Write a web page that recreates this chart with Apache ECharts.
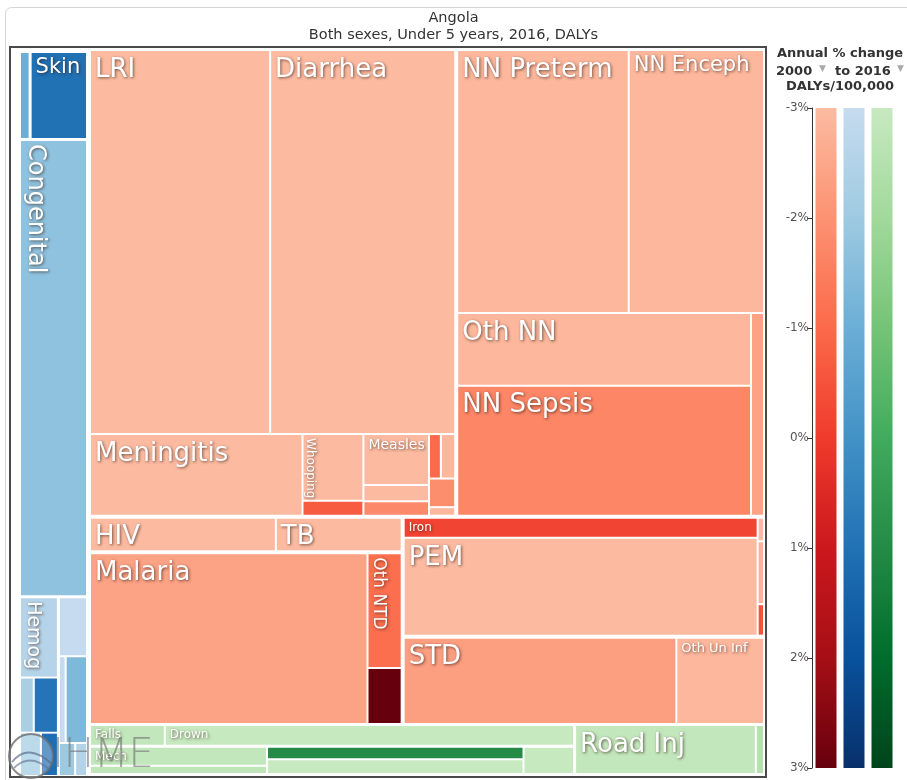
<!DOCTYPE html>
<html lang="en">
<head>
  <meta charset="UTF-8">
  <title>Angola - Both sexes, Under 5 years, 2016, DALYs</title>
  <style>
    html, body {
      height: 100%;
      width: 100%;
      margin: 0;
      padding: 0;
      background: #fff;
    }
  </style>
  <script src="https://cdn.jsdelivr.net/npm/echarts@6/dist/echarts.min.js"></script>
</head>
<body>
<div id="main" style="width: 907px; height: 780px;"></div>

<script>
  // DALYs: relative size of each cause
  // change: annual % change of DALYs/100,000, 2000 to 2016

  // communicable, maternal, neonatal and nutritional
  var cmnnGroups = ['Diarrhea, LRI & other infections', 'Neonatal disorders', 'HIV/AIDS & TB',
    'NTDs & malaria', 'Nutritional deficiencies', 'Other communicable'];
  var cmnnCauses = [
    ['LRI', 'Diarrhea', 'Meningitis', 'Whooping', 'Diphtheria', 'Measles', 'Encephalitis', 'Tetanus',
      'Varicella', 'URI', 'Typhoid', 'Otitis'],
    ['NN Preterm', 'NN Enceph', 'Oth NN', 'NN Sepsis', 'NN Hemol'],
    ['HIV', 'TB'],
    ['Malaria', 'Oth NTD', 'Yellow Fever'],
    ['Iron', 'PEM', 'Iodine', 'Vit A', 'Oth Nutr'],
    ['STD', 'Oth Un Inf']
  ];
  var cmnnDalys = [
    [68.2, 70.1, 17.1, 4.0, 0.9, 3.3, 1.05, 0.93, 0.52, 0.63, 0.74, 0.22],
    [44.5, 35.1, 21.1, 37.7, 2.6],
    [6.5, 4.4],
    [47.1, 3.9, 1.9],
    [7.1, 34.6, 0.15, 0.4, 0.2],
    [23.65, 7.6]
  ];
  var cmnnChange = [
    [-3, -3, -3, -3, -0.7, -3, -3, -1.8, -1.0, -2.9, -1.9, -2.9],
    [-2.9, -2.9, -2.9, -1.7, -2.4],
    [-3, -3],
    [-2.4, -1.1, 3],
    [-0.2, -3, -3, -2.8, -0.5],
    [-2.3, -2.9]
  ];

  // non-communicable
  var ncdGroups = ['Neoplasms', 'Skin diseases', 'Congenital anomalies', 'Blood & endocrine', 'Other NCD'];
  var ncdCauses = [
    ['Leukemia'],
    ['Skin'],
    ['Congenital'],
    ['Hemog', 'Endocrine', 'Urinary', 'Oth Hemat', 'CKD'],
    ['Neuro', 'Digestive', 'Chr Resp', 'Cardio', 'Oral']
  ];
  var ncdDalys = [[0.92], [4.97], [30.6], [3.1, 0.77, 1.35, 0.92, 0.75], [1.7, 0.6, 1.9, 0.55, 0.4]];
  var ncdChange = [[-1.0], [1.0], [-1.7], [-2.6, -2.3, 0.9, -2.0, 1.1], [-3, -3, -1.4, -2.0, -2.5]];

  // injuries
  var injGroups = ['Falls & drowning', 'Other unintentional', 'Transport injuries'];
  var injCauses = [
    ['Falls', 'Drown'],
    ['Mech', 'Poison', 'Animal', 'Fire', 'Foreign Body'],
    ['Road Inj', 'Oth Transport']
  ];
  var injDalys = [[1.58, 8.65], [3.4, 1.5, 3.3, 3.8, 1.4], [8.85, 0.4]];
  var injChange = [[-2.9, -3], [-2.9, -2.8, 1.0, -3, -3], [-2.9, -2.5]];

  // colour scale, -3% ... 3%
  var scaleTicks = [-3, 3];
  var reds = ['#fcbba1', '#fc9272', '#fb6a4a', '#ef3b2c', '#cb181d', '#a50f15', '#67000d'];
  var blues = ['#c6dbef', '#9ecae1', '#6baed6', '#4292c6', '#2171b5', '#08519c', '#08306b'];
  var greens = ['#c7e9c0', '#a1d99b', '#74c476', '#41ab5d', '#238b45', '#006d2c', '#00441b'];

  // which causes get a label, and its font size
  var labelSizes = {
    'LRI': 26, 'Diarrhea': 26, 'NN Preterm': 26, 'NN Enceph': 21, 'Oth NN': 26, 'NN Sepsis': 26,
    'Meningitis': 26, 'Whooping': 12, 'Measles': 14, 'HIV': 26, 'TB': 26, 'Malaria': 26,
    'Oth NTD': 17, 'Iron': 12, 'PEM': 26, 'STD': 26, 'Oth Un Inf': 13,
    'Skin': 21, 'Congenital': 24, 'Hemog': 19,
    'Falls': 12, 'Drown': 12, 'Mech': 12, 'Road Inj': 26
  };
  var verticalLabels = ['Congenital', 'Hemog', 'Whooping', 'Oth NTD'];

  function labelFor(name) {
    var size = labelSizes[name];
    if (!size) {
      return { show: false };
    }
    if (verticalLabels.indexOf(name) >= 0) {
      var lh = Math.round(size * 1.2);
      return {
        show: true, fontSize: size, lineHeight: lh, rotate: -90,
        position: [lh, 3], padding: 0
      };
    }
    return {
      show: true, fontSize: size, lineHeight: Math.round(size * 0.85),
      padding: [Math.round(size * 0.3), 4, 0, 4]
    };
  }

  function buildTree(groups, causes, dalys, change) {
    return groups.map(function (g, i) {
      return {
        name: g,
        children: causes[i].map(function (c, j) {
          return { name: c, value: [dalys[i][j], change[i][j]], label: labelFor(c) };
        })
      };
    });
  }

  function sum(list) {
    return list.reduce(function (a, b) { return a + b; }, 0);
  }

  var baseLabel = {
    show: true,
    position: 'insideTopLeft',
    distance: 0,
    padding: [3, 4, 0, 4],
    overflow: 'none',
    color: '#fff',
    fontFamily: 'DejaVu Sans',
    textShadowColor: 'rgba(40, 20, 10, 0.65)',
    textShadowBlur: 3,
    textShadowOffsetX: 1,
    textShadowOffsetY: 1
  };

  function treemap(name, data, box, ratio, rootGap, palette) {
    var s = {
      type: 'treemap',
      name: name,
      data: data,
      squareRatio: ratio,
      sort: false,
      roam: false,
      nodeClick: false,
      silent: true,
      visibleMin: 1,
      breadcrumb: { show: false },
      label: baseLabel,
      upperLabel: { show: false },
      itemStyle: { borderWidth: 0, gapWidth: 0, borderColor: '#fff' },
      levels: [
        { itemStyle: { borderWidth: 0, gapWidth: rootGap, borderColor: '#fff' } },
        {
          color: palette, colorMappingBy: 'value', visualDimension: 1, visualMin: -3, visualMax: 3,
          itemStyle: { borderWidth: 0, gapWidth: 2, borderColor: '#fff' }
        },
        { itemStyle: { borderWidth: 0, gapWidth: 0 } }
      ]
    };
    for (var k in box) s[k] = box[k];
    return s;
  }

  // communicable block: an upper band (first two groups, side by side) over the rest,
  // band sizes follow the DALY totals
  var cmnnBox = { left: 91, top: 51, width: 672, height: 672 };
  var gap = 4;
  var groupTotals = cmnnDalys.map(sum);
  var allTotal = sum(groupTotals);
  var bandPitch = (cmnnBox.height + gap) * (groupTotals[0] + groupTotals[1]) / allTotal;
  var leftPitch = (cmnnBox.width + gap) * groupTotals[0] / (groupTotals[0] + groupTotals[1]);
  var boxTopLeft = { left: cmnnBox.left, top: cmnnBox.top, width: leftPitch - gap, height: bandPitch - gap };
  var boxTopRight = { left: cmnnBox.left + leftPitch, top: cmnnBox.top,
    width: cmnnBox.width - leftPitch, height: bandPitch - gap };
  var boxBottom = { left: cmnnBox.left, top: cmnnBox.top + bandPitch,
    width: cmnnBox.width, height: cmnnBox.height - bandPitch };

  function cmnnPart(from, to) {
    return buildTree(cmnnGroups.slice(from, to), cmnnCauses.slice(from, to),
      cmnnDalys.slice(from, to), cmnnChange.slice(from, to));
  }

  function gradient(colors) {
    return new echarts.graphic.LinearGradient(0, 0, 0, 1, colors.map(function (c, i) {
      return { offset: i / (colors.length - 1), color: c };
    }));
  }

  var palettes = [reds, blues, greens];
  var font = '"DejaVu Sans"';

  var chart = echarts.init(document.getElementById('main'));
  var option = {
    animation: false,
    textStyle: { fontFamily: 'DejaVu Sans' },
    title: {
      text: 'Angola',
      subtext: 'Both sexes, Under 5 years, 2016, DALYs',
      left: 'center',
      top: 6,
      itemGap: 2,
      textStyle: { fontSize: 14.5, fontWeight: 'normal', color: '#333' },
      subtextStyle: { fontSize: 14.5, color: '#333' }
    },
    grid: { left: 812, top: 108, width: 84, height: 660, outerBoundsMode: 'none' },
    xAxis: { type: 'category', data: ['Communicable', 'Non-communicable', 'Injuries'], show: false },
    yAxis: {
      type: 'value', min: -3, max: 3, interval: 1, inverse: true,
      axisLine: { show: true, lineStyle: { color: '#333' } },
      axisTick: { show: true, length: 5, lineStyle: { color: '#333' } },
      splitLine: { show: false },
      axisLabel: { formatter: '{value}%', color: '#555', fontSize: 12, margin: 3 }
    },
    series: [
      treemap('Non-communicable', buildTree(ncdGroups, ncdCauses, ncdDalys, ncdChange),
        { left: 21, top: 53, width: 65, height: 722 }, 3.5, 3, blues),
      treemap(cmnnGroups[0], cmnnPart(0, 1), boxTopLeft, 2.4, gap, reds),
      treemap(cmnnGroups[1], cmnnPart(1, 2), boxTopRight, 2.4, gap, reds),
      treemap('Other communicable groups', cmnnPart(2, 6), boxBottom, 3.3, gap, reds),
      treemap('Injuries', buildTree(injGroups, injCauses, injDalys, injChange),
        { left: 91, top: 726, width: 672, height: 47 }, 10, 3, greens),
      {
        type: 'bar', stack: 'scale', barWidth: 21, silent: true,
        data: palettes.map(function (p) {
          return { value: scaleTicks[0], itemStyle: { color: gradient(p.slice(0, 4)) } };
        })
      },
      {
        type: 'bar', stack: 'scale', barWidth: 21, silent: true,
        data: palettes.map(function (p) {
          return { value: scaleTicks[1], itemStyle: { color: gradient(p.slice(3)) } };
        })
      }
    ],
    graphic: [
      { type: 'rect', silent: true, shape: { x: 5.5, y: 7.5, width: 930, height: 800, r: 6 },
        style: { fill: 'none', stroke: '#d4d4d4', lineWidth: 1 } },
      { type: 'rect', silent: true, z: 10, shape: { x: 10, y: 47, width: 756, height: 730 },
        style: { fill: 'none', stroke: '#4a4a4a', lineWidth: 2 } },
      { type: 'text', silent: true, x: 840, y: 54,
        style: { text: 'Annual % change', font: 'bold 13px ' + font, fill: '#333', align: 'center', verticalAlign: 'middle' } },
      { type: 'text', silent: true, x: 776, y: 72,
        style: { text: '2000', font: 'bold 13px ' + font, fill: '#333', verticalAlign: 'middle' } },
      { type: 'text', silent: true, x: 819, y: 69,
        style: { text: '\u25BC', font: '9px ' + font, fill: '#aaa', verticalAlign: 'middle' } },
      { type: 'text', silent: true, x: 835, y: 72,
        style: { text: 'to 2016', font: 'bold 13px ' + font, fill: '#333', verticalAlign: 'middle' } },
      { type: 'text', silent: true, x: 897, y: 69,
        style: { text: '\u25BC', font: '9px ' + font, fill: '#aaa', verticalAlign: 'middle' } },
      { type: 'text', silent: true, x: 840, y: 87,
        style: { text: 'DALYs/100,000', font: 'bold 13px ' + font, fill: '#333', align: 'center', verticalAlign: 'middle' } },
      // IHME watermark
      { type: 'circle', silent: true, z: 20, shape: { cx: 31, cy: 756, r: 22 },
        style: { fill: 'rgba(255,255,255,0.3)', stroke: 'rgba(110,110,110,0.8)', lineWidth: 2 } },
      { type: 'bezierCurve', silent: true, z: 20,
        shape: { x1: 12, y1: 762, x2: 52, y2: 764, cpx1: 28, cpy1: 742 },
        style: { fill: 'none', stroke: 'rgba(90,110,140,0.7)', lineWidth: 2 } },
      { type: 'bezierCurve', silent: true, z: 20,
        shape: { x1: 14, y1: 768, x2: 50, y2: 770, cpx1: 30, cpy1: 752 },
        style: { fill: 'none', stroke: 'rgba(90,110,140,0.6)', lineWidth: 2 } },
      { type: 'text', silent: true, z: 20, x: 52, y: 757,
        style: { text: 'IHME', font: '200 40px ' + font, fill: 'rgba(110,110,110,0.6)', verticalAlign: 'middle' } }
    ]
  };
  chart.setOption(option);
</script>
</body>
</html>
